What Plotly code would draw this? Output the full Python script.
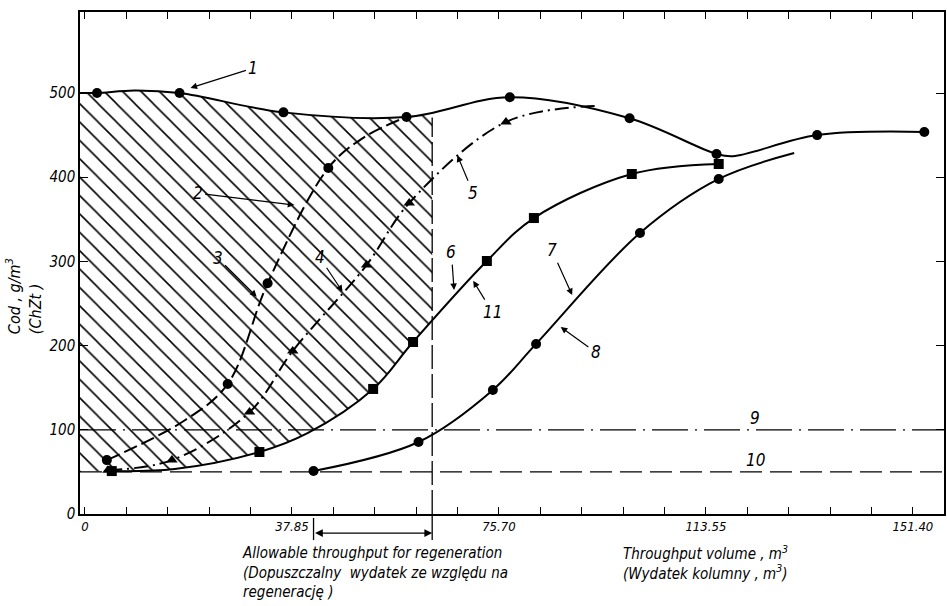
import plotly.graph_objects as go

# ---------------- data ----------------
# curve 1 : solid line, circles
c1_x = [-0.9, 2.2, 9.0, 17.3, 36.3, 58.8, 77.7, 99.6, 115.5, 118.5, 133.9, 153.5]
c1_y = [500, 500, 503, 500, 477, 471.5, 495, 470, 427.6, 425, 450, 453.7]
c1_mx = [2.2, 17.3, 36.3, 58.8, 77.7, 99.6, 115.5, 133.9, 153.5]
c1_my = [500, 500, 477, 471.5, 495, 470, 427.6, 450, 453.7]

# curve 2 : dashed line, circles
c2_x = [4.0, 18.2, 26.1, 33.4, 44.5, 51.1, 58.8]
c2_y = [64, 111, 154.4, 274, 411, 447.7, 471.5]
c2_mx = [4.0, 26.1, 33.4, 44.5]
c2_my = [64, 154.4, 274, 411]

# curve 4/5 : dash-dot line, triangles
c4_x = [4.2, 15.9, 30.1, 38.0, 51.5, 59.3, 77.0, 93.4]
c4_y = [52, 64, 121, 193.6, 295.7, 369.4, 465.6, 484.6]
c4_mx = [4.2, 15.9, 30.1, 38.0, 51.5, 59.3, 77.0]
c4_my = [52, 64, 121, 193.6, 295.7, 369.4, 465.6]

# curve 6/11 : solid line, squares
c6_x = [4.9, 16.4, 31.9, 40.7, 52.7, 60.0, 73.5, 82.1, 100.0, 115.9]
c6_y = [51, 53.4, 73.6, 96, 148.5, 204.3, 300.5, 351.5, 403.8, 415.7]
c6_mx = [4.9, 31.9, 52.7, 60.0, 73.5, 82.1, 100.0, 115.9]
c6_my = [51, 73.6, 148.5, 204.3, 300.5, 351.5, 403.8, 415.7]

# curve 7/8 : solid line, circles
c7_x = [41.8, 61.0, 74.6, 82.5, 101.5, 115.9, 129.7]
c7_y = [51, 85.5, 147.3, 202, 333.7, 397.9, 428.7]
c7_mx = [41.8, 61.0, 74.6, 82.5, 101.5, 115.9]
c7_my = [51, 85.5, 147.3, 202, 333.7, 397.9]

# horizontal limit lines 9 and 10
line9_y = 100
line10_y = 50

# allowable throughput for regeneration
allow_start = 41.8
allow_end = 63.5
allow_top = 471.0

# hatched area lower boundary starts on line 10 at the axis
hatch_low_x = [-0.9] + c6_x
hatch_low_y = [line10_y] + c6_y

# axis ticks
x_major = [0, 37.85, 75.70, 113.55, 151.40]
x_major_text = ["0", "37.85", "75.70", "113.55", "151.40"]
x_minor_per_major = 5
y_ticks = [0, 100, 200, 300, 400, 500]

# curve labels: (text, text_x, text_y, tip_x, tip_y)
labels = [
    ("1", 30.8, 529.7, 19.3, 506),
    ("2", 20.6, 381, 38.3, 367),
    ("3", 24.3, 304, 31.4, 258),
    ("4", 42.9, 305, 47.1, 264),
    ("5", 71.0, 381, 68.1, 426),
    ("6", 67.0, 311, 67.5, 266),
    ("11", 74.5, 240, 71.0, 277),
    ("7", 85.4, 313, 89.1, 260),
    ("8", 93.4, 192, 87.0, 222),
]
plain_labels = [("9", 122.6, 114), ("10", 122.6, 64)]

X_RANGE = [-0.91, 157.1]
Y_RANGE = [0, 596.2]

FONT = "DejaVu Sans Condensed, Liberation Sans Narrow, DejaVu Sans, sans-serif"

# ---------------- figure ----------------
fig = go.Figure()

# hatched region (between curve 6 / line 10 and curve 1)
fig.add_trace(go.Scatter(x=hatch_low_x, y=hatch_low_y, mode="lines",
                         line=dict(width=0, shape="spline", color="black"),
                         hoverinfo="skip", showlegend=False))
fig.add_trace(go.Scatter(x=c1_x, y=c1_y, mode="lines", fill="tonexty",
                         line=dict(width=0, shape="spline", color="black"),
                         fillcolor="rgba(0,0,0,0)",
                         fillpattern=dict(shape="\\", size=13, solidity=0.12,
                                          fgcolor="black", bgcolor="rgba(0,0,0,0)",
                                          fillmode="replace"),
                         hoverinfo="skip", showlegend=False))
# cut the hatching at the allowable-throughput line
fig.add_trace(go.Scatter(x=[allow_end, X_RANGE[1] + 10, X_RANGE[1] + 10, allow_end],
                         y=[Y_RANGE[0] - 50, Y_RANGE[0] - 50, Y_RANGE[1] + 50, Y_RANGE[1] + 50],
                         mode="lines", fill="toself", fillcolor="white",
                         line=dict(width=0, color="white"),
                         hoverinfo="skip", showlegend=False))

LW = 2.0
curve_specs = [
    (c1_x, c1_y, c1_mx, c1_my, "solid", "circle"),
    (c2_x, c2_y, c2_mx, c2_my, "14px,5px", "circle"),
    (c4_x, c4_y, c4_mx, c4_my, "14px,5px,2px,5px", "triangle-up"),
    (c6_x, c6_y, c6_mx, c6_my, "solid", "square"),
    (c7_x, c7_y, c7_mx, c7_my, "solid", "circle"),
]
for lx, ly, mx, my, dash, sym in curve_specs:
    fig.add_trace(go.Scatter(x=lx, y=ly, mode="lines",
                             line=dict(color="black", width=LW, dash=dash,
                                       shape="spline", smoothing=1.0),
                             hoverinfo="skip", showlegend=False))
    fig.add_trace(go.Scatter(x=mx, y=my, mode="markers",
                             marker=dict(symbol=sym, size=10, color="black"),
                             hoverinfo="skip", showlegend=False))

shapes = [
    dict(type="line", xref="paper", yref="y", x0=0, x1=1, y0=line9_y, y1=line9_y,
         line=dict(color="black", width=1.3, dash="36px,7px,2px,7px")),
    dict(type="line", xref="paper", yref="y", x0=0, x1=1, y0=line10_y, y1=line10_y,
         line=dict(color="black", width=1.3, dash="22px,8px")),
    dict(type="line", xref="x", yref="y", x0=allow_end, x1=allow_end, y0=0, y1=allow_top,
         line=dict(color="black", width=1.3, dash="24px,5px")),
    dict(type="line", xref="x", yref="paper", x0=allow_end, x1=allow_end, y0=0, y1=-0.052,
         line=dict(color="black", width=1.3)),
    dict(type="line", xref="x", yref="paper", x0=allow_start, x1=allow_start, y0=-0.008, y1=-0.052,
         line=dict(color="black", width=1.3)),
]

annotations = []
for txt, tx, ty, px, py in labels:
    annotations.append(dict(text=txt, x=px, y=py, xref="x", yref="y",
                            ax=tx, ay=ty, axref="x", ayref="y",
                            showarrow=True, arrowhead=2, arrowsize=1.1, arrowwidth=1.2,
                            arrowcolor="black", standoff=0, startstandoff=1,
                            font=dict(size=17, color="black")))
for txt, tx, ty in plain_labels:
    annotations.append(dict(text=txt, x=tx, y=ty, xref="x", yref="y", showarrow=False,
                            font=dict(size=17, color="black")))

# double arrow for the allowable throughput
annotations.append(dict(text="", x=allow_end, y=-0.038, xref="x", yref="paper",
                        ax=allow_start, axref="x", ay=0, ayref="pixel",
                        showarrow=True, arrowhead=2, arrowside="end+start",
                        arrowsize=1.2, arrowwidth=1.3, arrowcolor="black",
                        standoff=0, startstandoff=0))

annotations.append(dict(text="Allowable throughput for regeneration<br>"
                             "(Dopuszczalny  wydatek ze względu na<br>"
                             "regenerację )",
                        x=(240 - 80) / 866, y=-0.056, xref="paper", yref="paper",
                        xanchor="left", yanchor="top", align="left", showarrow=False,
                        font=dict(size=15, color="black")))
annotations.append(dict(text="Throughput volume , m<sup>3</sup><br>"
                             "(Wydatek kolumny , m<sup>3</sup>)",
                        x=113.55, y=-0.054, xref="x", yref="paper",
                        xanchor="center", yanchor="top", align="left", showarrow=False,
                        font=dict(size=15, color="black")))
annotations.append(dict(text="Cod , g/m<sup>3</sup><br>(ChZt )",
                        x=(24 - 80) / 866, y=(514 - 296) / 502,
                        xref="paper", yref="paper", xanchor="center", yanchor="middle",
                        showarrow=False, textangle=-90, align="left",
                        font=dict(size=16, color="black")))

# minor x ticks between the labelled ones
step = (x_major[1] - x_major[0]) / x_minor_per_major
x_minor = [mv + k * step for mv in x_major[:-1] for k in range(1, x_minor_per_major)]

fig.update_layout(
    width=947, height=606,
    margin=dict(l=80, r=1, t=12, b=92),
    paper_bgcolor="white", plot_bgcolor="white",
    font=dict(family=FONT, style="italic", color="black"),
    showlegend=False,
    shapes=shapes, annotations=annotations,
    xaxis=dict(range=X_RANGE, showgrid=False, zeroline=False,
               showline=True, linecolor="black", linewidth=1.5, mirror="ticks",
               ticks="inside", ticklen=7, tickwidth=1.2, tickcolor="black",
               tickvals=x_major, ticktext=x_major_text,
               minor=dict(tickmode="array", tickvals=x_minor, ticks="inside",
                          ticklen=7, tickwidth=1.2, tickcolor="black", showgrid=False),
               tickfont=dict(size=13, family=FONT, style="italic")),
    yaxis=dict(range=Y_RANGE, showgrid=False, zeroline=False,
               showline=True, linecolor="black", linewidth=1.5, mirror="ticks",
               ticks="inside", ticklen=8, tickwidth=1.2, tickcolor="black",
               tickvals=y_ticks, ticktext=[str(v) for v in y_ticks],
               tickfont=dict(size=15, family=FONT, style="italic")),
)

fig.write_html("out.html", config={"displayModeBar": False},
               post_script="document.body.style.margin='0px';")
